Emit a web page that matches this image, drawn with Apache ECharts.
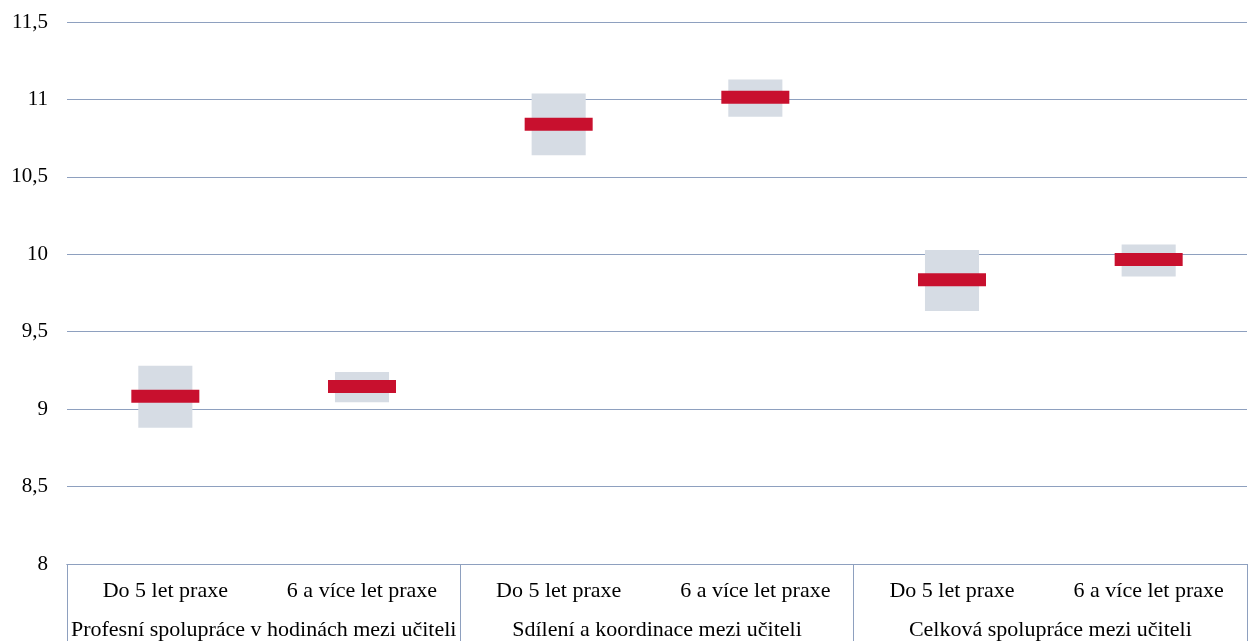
<!DOCTYPE html>
<html>
<head>
<meta charset="utf-8">
<script src="https://cdn.jsdelivr.net/npm/echarts@6/dist/echarts.min.js"></script>
<style>html,body{margin:0;padding:0;background:#fff}#c{width:1255px;height:641px}</style>
</head>
<body>
<div id="c"></div>
<script>
const subCategories = ['Do 5 let praxe', '6 a více let praxe', 'Do 5 let praxe', '6 a více let praxe', 'Do 5 let praxe', '6 a více let praxe'];
const groupCategories = ['Profesní spolupráce v hodinách mezi učiteli', 'Sdílení a koordinace mezi učiteli', 'Celková spolupráce mezi učiteli'];
const meanValues = [9.084, 9.146, 10.840, 11.014, 9.835, 9.966];
const lowerValues = [8.880, 9.045, 10.640, 10.888, 9.633, 9.857];
const upperValues = [9.281, 9.240, 11.038, 11.128, 10.028, 10.063];
const yTicks = [8, 8.5, 9, 9.5, 10, 10.5, 11, 11.5];

const lineColor = '#8EA0BF';
const font = 'Liberation Serif';

const chart = echarts.init(document.getElementById('c'), null, {renderer: 'canvas'});
chart.setOption({
  animation: false,
  grid: {left: 67, right: 8, top: 22, bottom: 76, containLabel: false},
  xAxis: [{
    type: 'category',
    data: subCategories,
    position: 'bottom',
    axisLine: {show: true, lineStyle: {color: lineColor, width: 1}},
    axisTick: {show: false},
    axisLabel: {interval: 0, margin: 16, fontFamily: font, fontSize: 22, color: '#000'},
    splitLine: {show: false}
  }, {
    type: 'category',
    data: groupCategories,
    position: 'bottom',
    axisLine: {show: true, lineStyle: {color: lineColor, width: 1}},
    axisTick: {show: true, length: 80, lineStyle: {color: lineColor, width: 1}},
    axisLabel: {interval: 0, margin: 55, fontFamily: font, fontSize: 22, color: '#000'},
    splitLine: {show: false}
  }],
  yAxis: {
    type: 'value',
    min: yTicks[0],
    max: yTicks[yTicks.length - 1],
    interval: 0.5,
    axisLine: {show: false},
    axisTick: {show: false},
    axisLabel: {
      margin: 19, fontFamily: font, fontSize: 21, color: '#000',
      formatter: v => String(v).replace('.', ',')
    },
    splitLine: {lineStyle: {color: lineColor, width: 1}}
  },
  series: [{
    type: 'custom',
    xAxisIndex: 0,
    data: subCategories.map((c, i) => [i, lowerValues[i], upperValues[i]]),
    encode: {x: 0, y: [1, 2]},
    renderItem: function (params, api) {
      const x = api.value(0), lo = api.value(1), hi = api.value(2);
      const p1 = api.coord([x, hi]);
      const p2 = api.coord([x, lo]);
      const w = api.size([1, 0])[0] * 0.275;
      return {
        type: 'rect',
        shape: {x: p1[0] - w / 2, y: p1[1], width: w, height: p2[1] - p1[1]},
        style: {fill: '#D6DCE4'}
      };
    },
    z: 2
  }, {
    type: 'scatter',
    xAxisIndex: 0,
    data: meanValues.map((v, i) => [i, v]),
    symbol: 'rect',
    symbolSize: [68, 13],
    itemStyle: {color: '#C8102E', opacity: 1},
    z: 3
  }]
});
</script>
</body>
</html>
